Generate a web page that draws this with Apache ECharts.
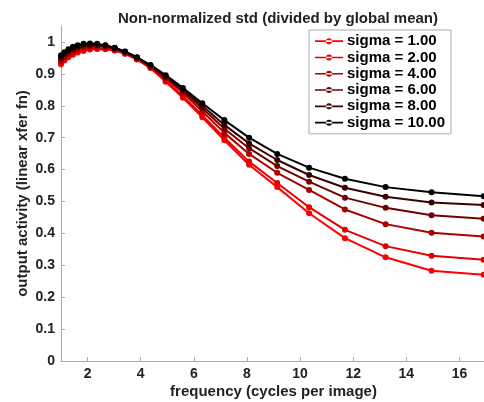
<!DOCTYPE html>
<html>
<head>
<meta charset="utf-8">
<script src="https://cdn.jsdelivr.net/npm/echarts@6/dist/echarts.min.js"></script>
<style>
  html, body { margin: 0; padding: 0; background: #fff; }
  #chart { width: 484px; height: 402px; }
</style>
</head>
<body>
<div id="chart"></div>
<script>
// frequencies (cycles per image)
var freqs = [1.00, 1.13, 1.28, 1.45, 1.63, 1.85, 2.09, 2.36, 2.67, 3.02, 3.41, 3.86,
  4.37, 4.94, 5.59, 6.32, 7.15, 8.08, 9.14, 10.34, 11.69, 13.22, 14.95, 16.91];

var sigma1 = [0.930, 0.942, 0.952, 0.960, 0.967, 0.972, 0.976, 0.978, 0.977, 0.973, 0.963, 0.945,
  0.918, 0.875, 0.825, 0.764, 0.692, 0.615, 0.545, 0.463, 0.385, 0.325, 0.283, 0.270];
var sigma2 = [0.935, 0.946, 0.956, 0.964, 0.970, 0.976, 0.979, 0.980, 0.979, 0.974, 0.964, 0.946,
  0.919, 0.879, 0.830, 0.770, 0.700, 0.625, 0.558, 0.482, 0.411, 0.360, 0.330, 0.317];
var sigma4 = [0.942, 0.953, 0.963, 0.971, 0.978, 0.983, 0.985, 0.986, 0.984, 0.978, 0.967, 0.949,
  0.922, 0.886, 0.840, 0.783, 0.715, 0.649, 0.590, 0.536, 0.475, 0.429, 0.402, 0.390];
var sigma6 = [0.948, 0.959, 0.969, 0.977, 0.983, 0.988, 0.990, 0.990, 0.987, 0.980, 0.968, 0.950,
  0.924, 0.890, 0.846, 0.792, 0.728, 0.667, 0.611, 0.562, 0.512, 0.480, 0.457, 0.446];
var sigma8 = [0.953, 0.964, 0.973, 0.981, 0.987, 0.991, 0.993, 0.992, 0.989, 0.981, 0.969, 0.951,
  0.926, 0.893, 0.851, 0.800, 0.740, 0.682, 0.630, 0.583, 0.543, 0.515, 0.497, 0.489];
var sigma10 = [0.958, 0.968, 0.977, 0.985, 0.990, 0.994, 0.995, 0.994, 0.990, 0.982, 0.970, 0.952,
  0.928, 0.896, 0.856, 0.808, 0.755, 0.700, 0.649, 0.606, 0.571, 0.545, 0.529, 0.516];

var seriesNames = ['sigma = 1.00', 'sigma = 2.00', 'sigma = 4.00', 'sigma = 6.00', 'sigma = 8.00', 'sigma = 10.00'];
var seriesValues = [sigma1, sigma2, sigma4, sigma6, sigma8, sigma10];
var colors = ['#ff0000', '#e30000', '#aa0000', '#710000', '#390000', '#000000'];

var xTicks = [2, 4, 6, 8, 10, 12, 14, 16];
var yTicks = [0, 0.1, 0.2, 0.3, 0.4, 0.5, 0.6, 0.7, 0.8, 0.9, 1];

var font = '"Liberation Sans", Arial, Helvetica, sans-serif';

// legend glyph: short line with a small dot in the middle
var legendIcon = 'path://M0,2.2 H28 V3.8 H0 Z M11,3 A3,3 0 1,0 17,3 A3,3 0 1,0 11,3 Z';

var chart = echarts.init(document.getElementById('chart'), null, { renderer: 'canvas' });

var series = [];
for (var i = 0; i < seriesNames.length; i++) {
  var pts = [];
  for (var j = 0; j < freqs.length; j++) {
    pts.push([freqs[j], seriesValues[i][j]]);
  }
  series.push({
    name: seriesNames[i],
    type: 'line',
    data: pts,
    symbol: 'circle',
    symbolSize: 6,
    showSymbol: true,
    lineStyle: { color: colors[i], width: 2 },
    itemStyle: { color: colors[i] },
    animation: false
  });
}

var option = {
  animation: false,
  title: {
    text: 'Non-normalized std (divided by global mean)',
    left: 273,
    textAlign: 'center',
    top: 6,
    textStyle: { fontFamily: font, fontSize: 15, fontWeight: 'bold', color: '#222' }
  },
  legend: {
    orient: 'vertical',
    left: 309,
    top: 30,
    padding: [3, 6, 3, 6],
    icon: legendIcon,
    itemWidth: 28,
    itemHeight: 6,
    itemGap: 0,
    borderColor: '#aaa',
    borderWidth: 1,
    backgroundColor: '#fff',
    data: seriesNames,
    textStyle: { fontFamily: font, fontSize: 15, fontWeight: 'bold', color: '#000', lineHeight: 16.3, padding: [0, 0, 0, -1] }
  },
  grid: {
    left: 61,
    top: 26,
    right: -2,
    bottom: 41,
    outerBoundsMode: 'none'
  },
  xAxis: {
    type: 'value',
    min: 1,
    max: 17,
    name: 'frequency (cycles per image)',
    nameLocation: 'middle',
    nameGap: 23,
    nameMoveOverlap: false,
    nameTextStyle: { fontFamily: font, fontSize: 15, fontWeight: 'bold', color: '#222' },
    axisLine: { show: true, lineStyle: { color: '#aaa', width: 1 } },
    axisTick: { show: true, inside: true, length: 4, customValues: xTicks, lineStyle: { color: '#aaa' } },
    axisLabel: { customValues: xTicks, margin: 6, fontFamily: font, fontSize: 14, fontWeight: 'bold', color: '#222' },
    splitLine: { show: false }
  },
  yAxis: {
    type: 'value',
    min: 0,
    max: 1.05,
    name: 'output activity (linear xfer fn)',
    nameLocation: 'middle',
    nameGap: 31,
    nameMoveOverlap: false,
    nameTextStyle: { fontFamily: font, fontSize: 15, fontWeight: 'bold', color: '#222' },
    axisLine: { show: true, lineStyle: { color: '#aaa', width: 1 } },
    axisTick: { show: true, inside: true, length: 4, customValues: yTicks, lineStyle: { color: '#aaa' } },
    axisLabel: { customValues: yTicks, margin: 6, fontFamily: font, fontSize: 14, fontWeight: 'bold', color: '#222' },
    splitLine: { show: false }
  },
  series: series
};

chart.setOption(option);
</script>
</body>
</html>
